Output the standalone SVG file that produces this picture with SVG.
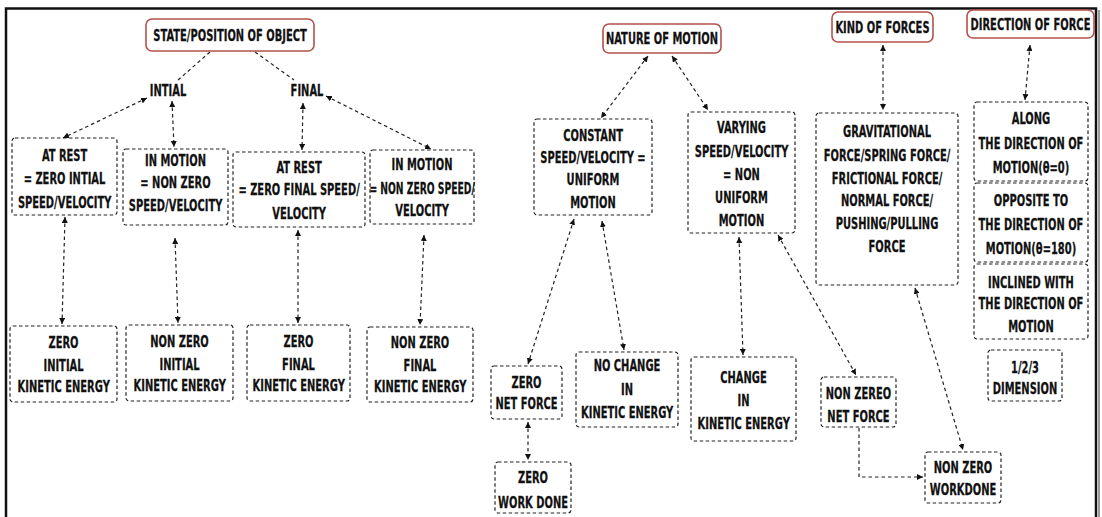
<svg xmlns="http://www.w3.org/2000/svg" width="1102" height="517" viewBox="0 0 1102 517">
  <style>
    .t { font-family: "DejaVu Sans Condensed", "DejaVu Sans", sans-serif; font-stretch: condensed; font-weight: bold; font-size: 16px; text-anchor: middle; fill: #111; stroke: #111; stroke-width: 0.25; transform-box: fill-box; transform-origin: center; transform: scaleX(0.69); }
    .t.tight { transform: scaleX(0.64); }
    .root { fill: #fff; stroke: #b5504b; stroke-width: 1.6; }
    .box { fill: #fff; stroke: #222; stroke-width: 1.2; stroke-dasharray: 3.5 2.5; }
    .c { fill: none; stroke: #222; stroke-width: 1.2; stroke-dasharray: 3.5 3; }
    .bi { marker-start: url(#ah); marker-end: url(#ah); }
    .one { marker-end: url(#ah); }
  </style>
  <defs>
    <marker id="ah" viewBox="0 0 6 6" refX="6" refY="3" markerWidth="6" markerHeight="6" markerUnits="userSpaceOnUse" orient="auto-start-reverse">
      <path d="M0,0 L6,3 L0,6 z" fill="#111"/>
    </marker>
  </defs>

  <rect width="1102" height="517" fill="#fff"/>
  <!-- outer frame -->
  <path d="M6,517 V8.5 H1096 V517" fill="none" stroke="#111" stroke-width="2.5"/>
  <line x1="1099" y1="10" x2="1099" y2="517" stroke="#9a9a9a" stroke-width="2"/>

  <!-- connectors -->
  <g id="connectors">
    <line class="c" x1="210" y1="52" x2="178" y2="80"/>
    <line class="c" x1="255" y1="52" x2="294" y2="80"/>
    <line class="c bi" x1="147" y1="98" x2="63" y2="138"/>
    <line class="c bi" x1="172" y1="101" x2="174" y2="147"/>
    <line class="c bi" x1="303" y1="103" x2="302" y2="150"/>
    <line class="c bi" x1="326" y1="96" x2="431" y2="149"/>
    <line class="c bi" x1="65" y1="217" x2="62" y2="324"/>
    <line class="c bi" x1="175" y1="238" x2="178" y2="323"/>
    <line class="c bi" x1="298" y1="230" x2="298" y2="323"/>
    <line class="c bi" x1="424" y1="235" x2="420" y2="325"/>
    <line class="c bi" x1="648" y1="56" x2="601" y2="118"/>
    <line class="c bi" x1="672" y1="56" x2="708" y2="110"/>
    <line class="c bi" x1="574" y1="219" x2="528" y2="364"/>
    <line class="c bi" x1="602" y1="221" x2="624" y2="350"/>
    <line class="c bi" x1="528" y1="422" x2="528" y2="460"/>
    <line class="c bi" x1="739" y1="237" x2="743" y2="355"/>
    <line class="c bi" x1="778" y1="235" x2="856" y2="375"/>
    <line class="c bi" x1="883" y1="45" x2="883" y2="110"/>
    <line class="c bi" x1="1030" y1="45" x2="1025" y2="100"/>
    <line class="c bi" x1="915" y1="288" x2="963" y2="450"/>
    <path class="c one" d="M859,428 V477 H923"/>
  </g>

  <!-- top-level topics -->
  <g id="state-position">
    <rect class="root" x="146" y="19" width="168" height="32" rx="6"/>
    <text class="t" x="230" y="41">STATE/POSITION OF OBJECT</text>
  </g>
  <g id="nature-of-motion">
    <rect class="root" x="603" y="24" width="118" height="29" rx="6"/>
    <text class="t" x="662" y="44">NATURE OF MOTION</text>
  </g>
  <g id="kind-of-forces">
    <rect class="root" x="832" y="12" width="101" height="30" rx="6"/>
    <text class="t" x="882.5" y="33">KIND OF FORCES</text>
  </g>
  <g id="direction-of-force">
    <rect class="root" x="967" y="10" width="127" height="28" rx="6"/>
    <text class="t" x="1030.5" y="30">DIRECTION OF FORCE</text>
  </g>

  <!-- state branch -->
  <g id="initial-label"><text class="t" x="168" y="96">INTIAL</text></g>
  <g id="final-label"><text class="t" x="307" y="96">FINAL</text></g>

  <g id="initial-rest">
    <rect class="box" x="12" y="138" width="105" height="77" rx="3"/>
    <text class="t" x="64.5" y="161">AT REST</text>
    <text class="t" x="64.5" y="184">= ZERO INTIAL</text>
    <text class="t" x="64.5" y="208">SPEED/VELOCITY</text>
  </g>
  <g id="initial-motion">
    <rect class="box" x="123" y="149" width="105" height="76" rx="3"/>
    <text class="t" x="175.5" y="166">IN MOTION</text>
    <text class="t" x="175.5" y="188">= NON ZERO</text>
    <text class="t" x="175.5" y="211">SPEED/VELOCITY</text>
  </g>
  <g id="final-rest">
    <rect class="box" x="233" y="152" width="132" height="75" rx="3"/>
    <text class="t" x="299" y="173">AT REST</text>
    <text class="t" x="299" y="195">= ZERO FINAL SPEED/</text>
    <text class="t" x="299" y="219">VELOCITY</text>
  </g>
  <g id="final-motion">
    <rect class="box" x="370" y="150" width="104" height="74" rx="3"/>
    <text class="t" x="422" y="170">IN MOTION</text>
    <text class="t tight" x="422" y="194">= NON ZERO SPEED/</text>
    <text class="t" x="422" y="216">VELOCITY</text>
  </g>

  <g id="ke-zero-initial">
    <rect class="box" x="10" y="326" width="107" height="76" rx="3"/>
    <text class="t" x="63.5" y="348">ZERO</text>
    <text class="t" x="63.5" y="371">INITIAL</text>
    <text class="t" x="63.5" y="392">KINETIC ENERGY</text>
  </g>
  <g id="ke-nonzero-initial">
    <rect class="box" x="126" y="325" width="107" height="76" rx="3"/>
    <text class="t" x="179.5" y="347">NON ZERO</text>
    <text class="t" x="179.5" y="370">INITIAL</text>
    <text class="t" x="179.5" y="391">KINETIC ENERGY</text>
  </g>
  <g id="ke-zero-final">
    <rect class="box" x="247" y="325" width="103" height="76" rx="3"/>
    <text class="t" x="298.5" y="347">ZERO</text>
    <text class="t" x="298.5" y="370">FINAL</text>
    <text class="t" x="298.5" y="391">KINETIC ENERGY</text>
  </g>
  <g id="ke-nonzero-final">
    <rect class="box" x="367" y="327" width="106" height="75" rx="3"/>
    <text class="t" x="420" y="348">NON ZERO</text>
    <text class="t" x="420" y="371">FINAL</text>
    <text class="t" x="420" y="392">KINETIC ENERGY</text>
  </g>

  <!-- nature of motion branch -->
  <g id="uniform">
    <rect class="box" x="534" y="119" width="118" height="96" rx="3"/>
    <text class="t" x="593" y="141">CONSTANT</text>
    <text class="t" x="593" y="163">SPEED/VELOCITY =</text>
    <text class="t" x="593" y="185">UNIFORM</text>
    <text class="t" x="593" y="208">MOTION</text>
  </g>
  <g id="non-uniform">
    <rect class="box" x="688" y="112" width="107" height="121" rx="3"/>
    <text class="t" x="741.5" y="133">VARYING</text>
    <text class="t" x="741.5" y="157">SPEED/VELOCITY</text>
    <text class="t" x="741.5" y="180">= NON</text>
    <text class="t" x="741.5" y="203">UNIFORM</text>
    <text class="t" x="741.5" y="226">MOTION</text>
  </g>
  <g id="zero-net-force">
    <rect class="box" x="491" y="366" width="71" height="53" rx="3"/>
    <text class="t" x="526.5" y="388">ZERO</text>
    <text class="t" x="526.5" y="409">NET FORCE</text>
  </g>
  <g id="zero-work">
    <rect class="box" x="495" y="462" width="76" height="51" rx="3"/>
    <text class="t" x="533" y="483">ZERO</text>
    <text class="t" x="533" y="508">WORK DONE</text>
  </g>
  <g id="no-change-ke">
    <rect class="box" x="576" y="352" width="102" height="75" rx="3"/>
    <text class="t" x="627" y="371">NO CHANGE</text>
    <text class="t" x="627" y="395">IN</text>
    <text class="t" x="627" y="418">KINETIC ENERGY</text>
  </g>
  <g id="change-ke">
    <rect class="box" x="691" y="357" width="105" height="84" rx="3"/>
    <text class="t" x="743.5" y="383">CHANGE</text>
    <text class="t" x="743.5" y="406">IN</text>
    <text class="t" x="743.5" y="429">KINETIC ENERGY</text>
  </g>

  <!-- forces branch -->
  <g id="force-kinds">
    <rect class="box" x="816" y="113" width="142" height="172" rx="3"/>
    <text class="t" x="887" y="137">GRAVITATIONAL</text>
    <text class="t" x="887" y="161">FORCE/SPRING FORCE/</text>
    <text class="t" x="887" y="184">FRICTIONAL FORCE/</text>
    <text class="t" x="887" y="206">NORMAL FORCE/</text>
    <text class="t" x="887" y="229">PUSHING/PULLING</text>
    <text class="t" x="887" y="252">FORCE</text>
  </g>
  <g id="non-zero-net-force">
    <rect class="box" x="821" y="377" width="75" height="50" rx="3"/>
    <text class="t" x="858.5" y="399">NON ZEREO</text>
    <text class="t" x="858.5" y="422">NET FORCE</text>
  </g>
  <g id="non-zero-work">
    <rect class="box" x="925" y="452" width="76" height="51" rx="3"/>
    <text class="t" x="963" y="473">NON ZERO</text>
    <text class="t" x="963" y="495">WORKDONE</text>
  </g>

  <!-- direction branch -->
  <g id="dir-along">
    <rect class="box" x="974" y="102" width="114" height="79" rx="3"/>
    <text class="t" x="1031" y="124">ALONG</text>
    <text class="t" x="1031" y="149">THE DIRECTION OF</text>
    <text class="t" x="1031" y="173">MOTION(θ=0)</text>
  </g>
  <g id="dir-opposite">
    <rect class="box" x="974" y="183" width="114" height="79" rx="3"/>
    <text class="t" x="1031" y="206">OPPOSITE TO</text>
    <text class="t" x="1031" y="230">THE DIRECTION OF</text>
    <text class="t" x="1031" y="254">MOTION(θ=180)</text>
  </g>
  <g id="dir-inclined">
    <rect class="box" x="974" y="264" width="114" height="75" rx="3"/>
    <text class="t" x="1031" y="288">INCLINED WITH</text>
    <text class="t" x="1031" y="309">THE DIRECTION OF</text>
    <text class="t" x="1031" y="332">MOTION</text>
  </g>
  <g id="dimension">
    <rect class="box" x="988" y="350" width="74" height="51" rx="3"/>
    <text class="t" x="1025" y="373">1/2/3</text>
    <text class="t" x="1025" y="394">DIMENSION</text>
  </g>
</svg>
